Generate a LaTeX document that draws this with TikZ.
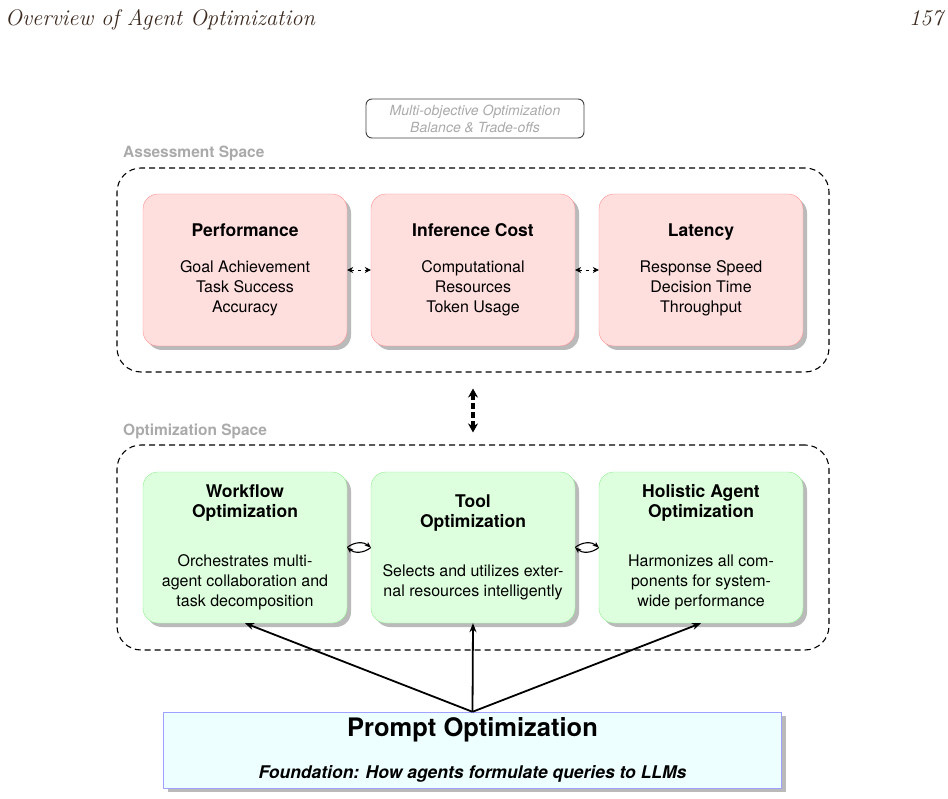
\documentclass[tikz,border=0pt]{standalone}
\usepackage{fontspec}
\setsansfont{TeX Gyre Heros}
\usetikzlibrary{arrows.meta,shadows}
\definecolor{pinkfill}{HTML}{FFDEDE}
\definecolor{pinkline}{HTML}{FF9090}
\definecolor{greenfill}{HTML}{DEFFDE}
\definecolor{greenline}{HTML}{90EE90}
\definecolor{bluefill}{HTML}{EEFFFF}
\definecolor{blueline}{HTML}{A0A0FF}
\definecolor{labelgray}{HTML}{AAAAAA}
\definecolor{headbrown}{HTML}{3C2A20}
\newcommand{\fsz}[2]{\fontsize{#1}{#2}\selectfont}
\newcommand{\ttl}{\bfseries\fsz{17.5}{20}}
\begin{document}
\begin{tikzpicture}[x=1pt,y=-1pt,
  region/.style={draw,dash pattern=on 6pt off 4pt,line width=1.1pt,rounded corners=24pt,minimum width=712pt},
  spacelabel/.style={anchor=west,inner sep=0pt,text=labelgray,font=\sffamily\bfseries\fsz{15.5}{18}},
  shade/.style={drop shadow={shadow xshift=4pt,shadow yshift=-4pt,fill=black!27,opacity=1}},
  metricbox/.style={draw=pinkline,fill=pinkfill,rounded corners=15pt,minimum width=204pt,minimum height=152pt,align=center,font=\sffamily\fsz{16}{20},shade},
  optbox/.style={draw=greenline,fill=greenfill,rounded corners=15pt,minimum width=204pt,minimum height=151pt,align=center,font=\sffamily\fsz{16}{20},shade},
  costlink/.style={{Stealth[length=6pt,width=6pt]}-{Stealth[length=6pt,width=6pt]},dash pattern=on 3pt off 4pt,line width=0.9pt},
  swaplink/.style={-{Stealth[length=6pt,width=5pt]},line width=1.1pt},
  feedlink/.style={-{Stealth[length=9pt,width=7pt]},line width=1.8pt}]
\useasboundingbox (0,0) rectangle (948,799);

\node[anchor=base west,inner sep=0pt,text=headbrown,font=\itshape\fsz{22.5}{26}] (runhead) at (5,26) {Overview of Agent Optimization};
\node[anchor=base east,inner sep=0pt,text=headbrown,font=\itshape\fsz{22.5}{26}] (pageno) at (943,26) {157};

\node[draw=black!75,line width=0.9pt,rounded corners=6pt,minimum width=218pt,minimum height=39pt,align=center,text=labelgray,font=\sffamily\itshape\fsz{14}{17}] (balance) at (475,118.5) {Multi-objective Optimization\\Balance \& Trade-offs};

\node[spacelabel] (assesslbl) at (123,153) {Assessment Space};
\node[region,minimum height=204pt] (assess) at (473,270) {};
\node[metricbox] (perf) at (245,270) {\ttl Performance\\[16pt]Goal Achievement\\Task Success\\Accuracy};
\node[metricbox] (cost) at (473,270) {\ttl Inference Cost\\[16pt]Computational\\Resources\\Token Usage};
\node[metricbox] (lat) at (701,270) {\ttl Latency\\[16pt]Response Speed\\Decision Time\\Throughput};
\draw[costlink] (perf) -- (cost);
\draw[costlink] (cost) -- (lat);

\node[spacelabel] (optimlbl) at (123,431) {Optimization Space};
\node[region,minimum height=205pt] (optim) at (473,547.5) {};
\node[optbox] (work) at (245,547.5) {\ttl Workflow\\\ttl Optimization\\[29pt]Orchestrates multi-\\agent collaboration and\\task decomposition};
\node[optbox] (tool) at (473,547.5) {\ttl Tool\\\ttl Optimization\\[29pt]Selects and utilizes exter-\\nal resources intelligently};
\node[optbox] (holi) at (701,547.5) {\ttl Holistic Agent\\\ttl Optimization\\[29pt]Harmonizes all com-\\ponents for system-\\wide performance};
\draw[swaplink] (work.east) to[bend left=40] (tool.west);
\draw[swaplink] (tool.west) to[bend left=40] (work.east);
\draw[swaplink] (tool.east) to[bend left=40] (holi.west);
\draw[swaplink] (holi.west) to[bend left=40] (tool.east);

\draw[{Stealth[length=9pt,width=10pt]}-{Stealth[length=9pt,width=10pt]},line width=3.4pt,dash pattern=on 6pt off 3pt,shorten <=16pt,shorten >=12pt] (assess.south) -- (optim.north);

\node[draw=blueline,fill=bluefill,minimum width=618pt,minimum height=76pt,align=center,font=\sffamily\bfseries\itshape\fsz{17.5}{21},shade] (prompt) at (472.5,750) {\upshape\fsz{25.5}{30}Prompt Optimization\\[21pt]Foundation: How agents formulate queries to LLMs};
\draw[feedlink] (prompt.north) -- (work.south);
\draw[feedlink] (prompt.north) -- (tool.south);
\draw[feedlink] (prompt.north) -- (holi.south);
\end{tikzpicture}
\end{document}
